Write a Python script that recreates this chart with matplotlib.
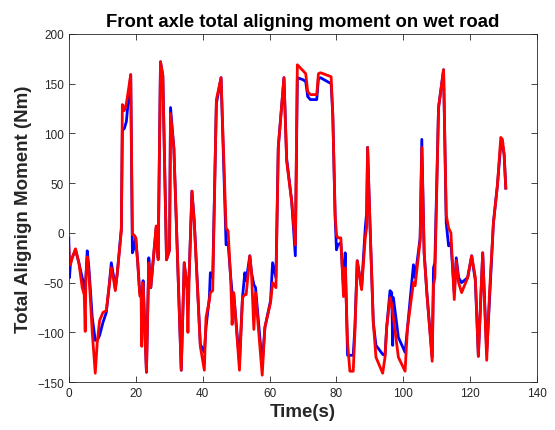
import matplotlib
matplotlib.use("Agg")
import matplotlib.pyplot as plt

plt.rcParams['font.family'] = ['Liberation Sans', 'DejaVu Sans']

# Time (s) and aligning moment (Nm)
time_s = [0.0, 0.2, 0.5, 1.0, 2.0, 3.0, 4.0, 4.6, 4.9, 5.1, 5.5, 6.0, 7.0, 7.9, 8.5, 9.2,
          10.2, 11.2, 12.0, 12.7, 13.3, 13.9, 14.5, 15.7, 16.0, 16.6, 17.2, 18.5, 19.0, 19.5,
          20.0, 20.6, 21.2, 21.6, 21.8, 22.2, 23.2, 23.9, 24.5, 26.1, 26.7, 27.4, 28.1, 29.2,
          30.1, 30.4, 31.4, 33.6, 34.5, 35.3, 35.6, 36.0, 36.8, 37.5, 39.3, 40.5, 41.0, 42.0,
          42.3, 43.0, 44.1, 45.5, 47.0, 47.6, 48.4, 48.8, 49.3, 51.0, 51.9, 52.6, 53.0, 54.1,
          54.6, 55.3, 55.8, 57.8, 58.6, 60.3, 60.9, 61.9, 62.6, 64.3, 65.1, 66.6, 67.7, 68.3,
          70.0, 70.8, 71.4, 72.2, 74.1, 74.6, 75.2, 78.4, 78.9, 79.6, 80.0, 80.4, 81.3, 82.1,
          82.6, 83.3, 84.0, 85.0, 85.5, 86.2, 87.5, 88.6, 89.0, 89.3, 90.0, 91.0, 91.8, 93.8,
          94.5, 95.0, 96.0, 96.5, 96.8, 97.0, 98.5, 100.5, 101.2, 103.0, 103.5, 105.0, 105.5,
          106.2, 107.0, 108.6, 109.0, 109.4, 110.5, 112.0, 112.8, 113.5, 114.2, 115.2, 115.8,
          116.5, 117.4, 119.2, 120.4, 121.5, 122.4, 123.7, 124.9, 125.7, 126.9, 128.1, 129.1,
          129.6, 130.1, 130.6]

moment_red = [-14, -30, -32, -25, -16, -30, -55, -62, -99, -45, -24, -40, -100, -141, -110, -88,
              -80, -78, -55, -35, -45, -58, -40, 2, 129, 123, 130, 159, -2, -2,
              -5, -30, -63, -65, -114, -50, -140, -30, -55, 7, -27, 172, 158, -27,
              -17, 120, 85, -138, -30, -55, -100, -40, 42, 10, -114, -138, -85, -68,
              -60, -58, 134, 156, 5, 2, -48, -92, -60, -138, -65, -62, -62, -23,
              -40, -97, -60, -143, -95, -70, -50, -55, 86, 156, 72, 32, -12, 169,
              163, 160, 142, 139, 139, 160, 161, 157, 118, 18, -2, -5, -5, -64,
              -35, -110, -139, -139, -100, -28, -57, -5, 5, 86, 10, -90, -125, -141,
              -125, -95, -65, -72, -80, -85, -125, -139, -96, -50, -53, -8, 86,
              -20, -60, -129, -52, -45, 126, 164, 18, 5, 0, -67, -28,
              -50, -60, -45, -23, -45, -124, -20, -128, -62, 10, 48, 96,
              94, 79, 45]

moment_blue = [-5, -45, -30, -25, -17, -30, -45, -52, -60, -45, -18, -35, -85, -108, -108, -103,
               -90, -80, -55, -30, -42, -56, -40, 5, 103, 105, 112, 159, -20, -15,
               -5, -30, -60, -62, -70, -48, -140, -25, -55, 5, -25, 172, 158, -27,
               -17, 126, 85, -138, -30, -55, -60, -38, 42, 12, -112, -120, -95, -65,
               -40, -45, 130, 156, -12, -10, -45, -60, -62, -130, -65, -40, -48, -23,
               -40, -52, -55, -132, -95, -68, -30, -45, 86, 156, 75, 32, -23, 156,
               154, 152, 137, 134, 134, 155, 156, 150, 118, 15, -17, -12, -10, -55,
               -20, -123, -123, -123, -95, -28, -55, 5, 20, 86, 10, -90, -113, -122,
               -123, -95, -58, -60, -113, -65, -105, -120, -96, -32, -45, -5, 94,
               -20, -60, -125, -35, -30, 126, 164, 10, -13, -10, -60, -25,
               -45, -50, -45, -23, -48, -124, -20, -120, -70, 10, 48, 89,
               89, 79, 45]

x_ticks = [0, 20, 40, 60, 80, 100, 120, 140]
y_ticks = [-150, -100, -50, 0, 50, 100, 150, 200]

fig = plt.figure(figsize=(5.55, 4.31), dpi=100)
ax = fig.add_axes([0.124, 0.111, 0.844, 0.808])

ax.plot(time_s, moment_blue, color=(0, 0, 1), lw=2.0)
ax.plot(time_s, moment_red, color=(1, 0, 0), lw=2.0)

ax.set_xlim(0, 140)
ax.set_ylim(-150, 200)
ax.set_xticks(x_ticks)
ax.set_yticks(y_ticks)

grey = (0.15, 0.15, 0.15)
ax.tick_params(direction='in', top=True, right=True, length=4, width=0.6,
               colors=grey, labelsize=8.5, labelcolor=grey)
for sp in ax.spines.values():
    sp.set_color(grey)
    sp.set_linewidth(0.6)

ax.set_title("Front axle total aligning moment on wet road", fontsize=13.3,
             fontweight='bold', pad=6)
ax.set_xlabel("Time(s)", fontsize=13.5, fontweight='bold', color=grey, labelpad=3)
ax.set_ylabel("Total Alignign Moment (Nm)", fontsize=13.5, fontweight='bold', color=grey,
              labelpad=4)

fig.savefig("out.png", dpi=100)
